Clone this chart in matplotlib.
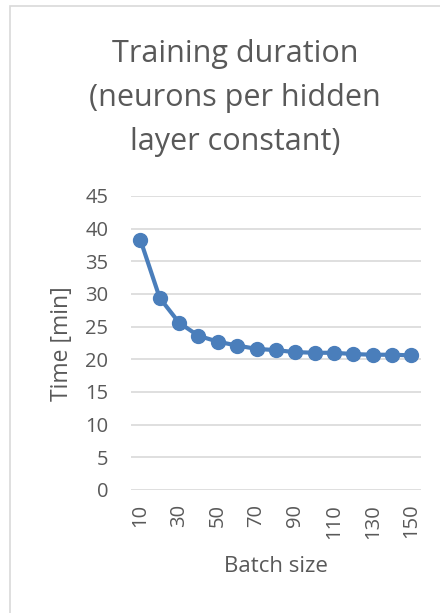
import matplotlib.pyplot as plt
from matplotlib.patches import Rectangle

batch_size = [10, 20, 30, 40, 50, 60, 70, 80, 90, 100, 110, 120, 130, 140, 150]
time_min = [38.3, 29.4, 25.6, 23.6, 22.7, 22.1, 21.6, 21.4, 21.1, 21.0, 21.0, 20.8, 20.7, 20.7, 20.6]
y_ticks = [0, 5, 10, 15, 20, 25, 30, 35, 40, 45]

plt.rcParams['font.family'] = ['Open Sans', 'DejaVu Sans']
txt = '#595959'

fig = plt.figure(figsize=(4.4, 6.13), dpi=100)
fig.patches.append(Rectangle((10 / 440, -0.1), 1.2, 1.1 - 6 / 613, transform=fig.transFigure,
                             fill=False, edgecolor='#D9D9D9', linewidth=1.2))

ax = fig.add_axes([0.297, 0.2007, 0.66, 0.4796])
pos = list(range(len(batch_size)))
ax.plot(pos, time_min, color='#4A7EBB', linewidth=3.0, marker='o', markersize=10, zorder=3)

ax.set_xlim(-0.5, len(batch_size) - 0.5)
ax.set_ylim(0, 45)
ax.set_yticks(y_ticks)
ax.set_xticks(pos[::2])
ax.set_xticklabels([str(b) for b in batch_size[::2]], rotation=90, va='top')
ax.grid(axis='y', color='#D9D9D9', linewidth=1.2)
ax.set_axisbelow(True)
for s in ax.spines.values():
    s.set_visible(False)
ax.tick_params(axis='both', length=0, labelsize=14.5, colors=txt)
ax.tick_params(axis='y', pad=16)
ax.tick_params(axis='x', pad=10)

fig.text(235 / 440, 1 - 98 / 613, 'Training duration\n(neurons per hidden\nlayer constant)',
         ha='center', va='center', fontsize=22, color=txt, linespacing=1.6)
fig.text(62 / 440, 1 - 344 / 613, 'Time [min]', rotation=90, ha='center', va='center',
         fontsize=16.5, color=txt)
fig.text(276 / 440, 1 - 567 / 613, 'Batch size', ha='center', va='center', fontsize=16, color=txt)

fig.savefig('out.png', dpi=100)
